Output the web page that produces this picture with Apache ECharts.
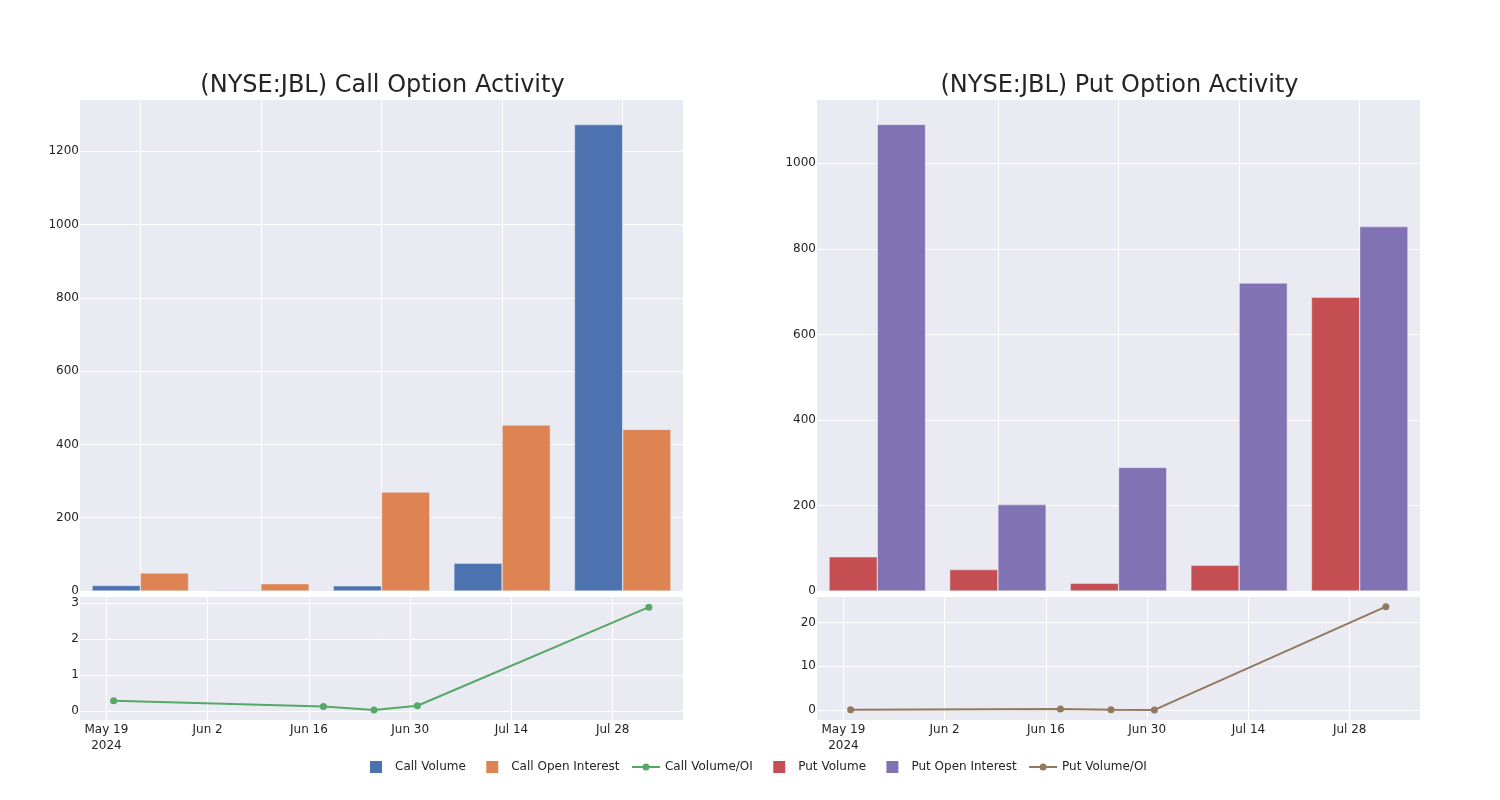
<!DOCTYPE html>
<html><head><meta charset="utf-8">
<script src="https://cdn.jsdelivr.net/npm/echarts@6/dist/echarts.min.js"></script>
<style>html,body{margin:0;padding:0;background:#fff}#c{width:1500px;height:800px}</style>
</head><body><div id="c"></div>
<script>
// ---- data ----
const categories = ['2024-05-20', '2024-06-18', '2024-06-25', '2024-07-01', '2024-08-02'];
const callVolume = [15, 2, 14, 76, 1273];
const callOpenInterest = [49, 20, 270, 453, 441];
const putVolume = [80, 50, 18, 60, 687];
const putOpenInterest = [1091, 202, 289, 720, 852];
const ratioDates = ['2024-05-20', '2024-06-18', '2024-06-25', '2024-07-01', '2024-08-02'];
const callRatio = [0.29, 0.13, 0.035, 0.155, 2.88];
const putRatio = [0.08, 0.24, 0.05, 0.03, 23.6];
const dateTicks = ['2024-05-19', '2024-06-02', '2024-06-16', '2024-06-30', '2024-07-14', '2024-07-28'];
const callTicks = [0, 200, 400, 600, 800, 1000, 1200];
const putTicks = [0, 200, 400, 600, 800, 1000];
const callRatioTicks = [0, 1, 2, 3];
const putRatioTicks = [0, 10, 20];

// ---- styling ----
const FONT = 'DejaVu Sans';
const TXT = 'rgb(36,36,36)';
const BG = '#EAEAF2';
const DAY = 86400000;
const t0 = Date.parse(dateTicks[0]);
const xMin = t0 - 3.65 * DAY, xMax = t0 + 79.72 * DAY;
const MONTHS = ['Jan','Feb','Mar','Apr','May','Jun','Jul','Aug','Sep','Oct','Nov','Dec'];
const tickTs = dateTicks.map(d => Date.parse(d));
function fmtDate(v) {
  const d = new Date(v);
  let s = MONTHS[d.getUTCMonth()] + ' ' + d.getUTCDate();
  if (Math.abs(v - tickTs[0]) < 1000) s += '\n2024';
  return s;
}
const gridBase = {show: true, backgroundColor: BG, borderWidth: 0, containLabel: false};
const grids = [
  Object.assign({left: 80, top: 100, width: 603, height: 491}, gridBase),
  Object.assign({left: 80, top: 597, width: 603, height: 123}, gridBase),
  Object.assign({left: 817, top: 100, width: 603, height: 491}, gridBase),
  Object.assign({left: 817, top: 597, width: 603, height: 123}, gridBase)
];
const split = {show: true, lineStyle: {color: '#ffffff', width: 1}};
const lbl = {color: TXT, fontFamily: FONT, fontSize: 12};
function catAxis(g) {
  return {type: 'category', gridIndex: g, data: categories, boundaryGap: true,
    axisLabel: {show: false}, axisTick: {show: false}, axisLine: {show: false},
    splitLine: Object.assign({alignWithLabel: true}, split)};
}
function timeAxis(g) {
  return {type: 'value', gridIndex: g, min: xMin, max: xMax,
    axisLine: {show: false},
    axisTick: {show: false, customValues: tickTs},
    axisLabel: Object.assign({customValues: tickTs, formatter: fmtDate, margin: 2, lineHeight: 16, align: 'center'}, lbl),
    splitLine: split};
}
function valAxis(g, min, max, ticks) {
  return {type: 'value', gridIndex: g, min: min, max: max,
    axisLine: {show: false},
    axisTick: {show: false, customValues: ticks},
    axisLabel: Object.assign({customValues: ticks, margin: 1, formatter: v => String(v)}, lbl),
    splitLine: split};
}
const barStyle = c => ({color: c, borderColor: BG, borderWidth: 0.5});
const SQ = 'path://M0,0M28,12M8,0h12v12h-12z';
const LN = 'path://M0,0M28,12M0,5h11v2h-11zM17,5h11v2h-11zM10.5,6a3.5,3.5 0 1,1 7,0a3.5,3.5 0 1,1 -7,0z';
const option = {
  animation: false,
  backgroundColor: '#ffffff',
  title: [
    {text: '(NYSE:JBL) Call Option Activity', left: 377.5, top: 69, textAlign: 'center',
     textStyle: {fontFamily: FONT, fontSize: 24, fontWeight: 'normal', color: TXT}},
    {text: '(NYSE:JBL) Put Option Activity', left: 1114.5, top: 69, textAlign: 'center',
     textStyle: {fontFamily: FONT, fontSize: 24, fontWeight: 'normal', color: TXT}}
  ],
  legend: {
    left: 357, top: 756, itemWidth: 28, itemHeight: 12, itemGap: 12.4,
    itemStyle: {borderWidth: 0},
    textStyle: {fontFamily: FONT, fontSize: 12, color: TXT},
    data: [
      {name: 'Call Volume', icon: SQ},
      {name: 'Call Open Interest', icon: SQ},
      {name: 'Call Volume/OI', icon: LN},
      {name: 'Put Volume', icon: SQ},
      {name: 'Put Open Interest', icon: SQ},
      {name: 'Put Volume/OI', icon: LN}
    ]
  },
  grid: grids,
  xAxis: [catAxis(0), timeAxis(1), catAxis(2), timeAxis(3)],
  yAxis: [
    valAxis(0, 0, 1340, callTicks),
    valAxis(1, -0.24, 3.16, callRatioTicks),
    valAxis(2, 0, 1148, putTicks),
    valAxis(3, -2.28, 25.8, putRatioTicks)
  ],
  series: [
    {name: 'Call Volume', type: 'bar', xAxisIndex: 0, yAxisIndex: 0, data: callVolume,
     itemStyle: barStyle('#4C72B0'), barGap: '0%', barCategoryGap: '20%'},
    {name: 'Call Open Interest', type: 'bar', xAxisIndex: 0, yAxisIndex: 0, data: callOpenInterest,
     itemStyle: barStyle('#DD8452'), barGap: '0%', barCategoryGap: '20%'},
    {name: 'Call Volume/OI', type: 'line', xAxisIndex: 1, yAxisIndex: 1,
     data: ratioDates.map((d, i) => [Date.parse(d), callRatio[i]]),
     symbol: 'circle', symbolSize: 7, showSymbol: true,
     lineStyle: {color: '#55A868', width: 2}, itemStyle: {color: '#55A868'}},
    {name: 'Put Volume', type: 'bar', xAxisIndex: 2, yAxisIndex: 2, data: putVolume,
     itemStyle: barStyle('#C44E52'), barGap: '0%', barCategoryGap: '20%'},
    {name: 'Put Open Interest', type: 'bar', xAxisIndex: 2, yAxisIndex: 2, data: putOpenInterest,
     itemStyle: barStyle('#8172B3'), barGap: '0%', barCategoryGap: '20%'},
    {name: 'Put Volume/OI', type: 'line', xAxisIndex: 3, yAxisIndex: 3,
     data: ratioDates.map((d, i) => [Date.parse(d), putRatio[i]]),
     symbol: 'circle', symbolSize: 7, showSymbol: true,
     lineStyle: {color: '#937860', width: 2}, itemStyle: {color: '#937860'}}
  ]
};
const chart = echarts.init(document.getElementById('c'), null, {renderer: 'canvas'});
chart.setOption(option);
</script>
</body></html>
